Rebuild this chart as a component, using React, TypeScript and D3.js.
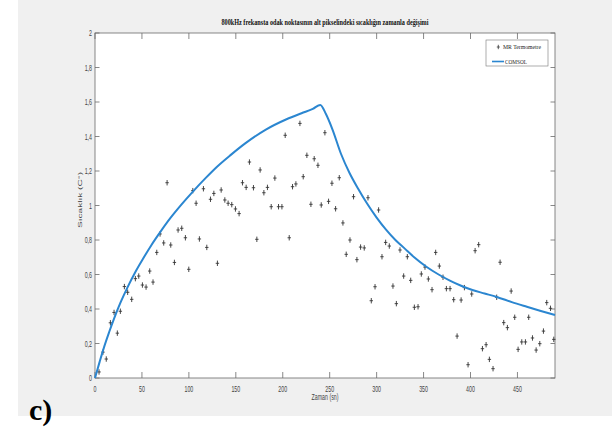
import React from "react";
import * as d3 from "d3";

const mrTimes = [4.3,8.5,12,16.4,20.3,23.8,27,31.3,34.8,39.1,43,46.6,50.5,54.4,58.3,61.8,65.8,69.3,73.2,76.8,80.7,84.6,88.5,92.4,96.3,99.9,104.2,107.7,111.2,115.5,119.1,123,126.6,130.4,134.4,138.3,141.8,145.7,149.6,153.5,157.1,161,164.5,168.8,172.4,175.9,179.9,183.7,187.7,191.6,195.5,199.1,202.6,206.9,210.4,214,218.3,221.8,225.7,230,233.5,237.5,241,244.9,248.8,252.4,256.3,260.2,264.1,267.6,271.6,275.4,279,282.9,286.8,290.8,294.3,298.3,302.1,305.7,309.6,313.5,317.4,321,324.9,328.8,332.7,336.3,340.2,344.1,347.6,351.5,355.1,359,362.9,366.8,370.7,374.3,378.2,382.1,385.7,390,393.5,397.4,401.3,404.9,408.7,412.7,416.6,420.1,424,427.9,431.5,435.4,439.3,443.3,447.1,450.7,454.6,458.5,462,466,469.9,473.8,477.7,481.2,485.2,488.7];
const mrValues = [0.035,0.15,0.11,0.32,0.38,0.26,0.387,0.53,0.497,0.456,0.576,0.591,0.539,0.527,0.62,0.556,0.728,0.835,0.783,1.132,0.771,0.67,0.858,0.868,0.813,0.63,1.086,1.013,0.806,1.097,0.757,1.036,1.07,0.665,1.09,1.032,1.013,1.005,0.98,0.953,1.132,1.105,1.252,1.103,0.804,1.206,1.074,1.105,0.993,1.159,0.993,0.993,1.407,0.813,1.109,1.125,1.476,1.167,1.291,1.007,1.271,1.233,1.003,1.422,1.024,1.129,0.981,1.161,0.899,0.717,0.8,1.051,0.686,0.759,0.754,1.045,0.448,0.529,0.974,0.703,0.786,0.765,0.533,0.431,0.742,0.591,0.703,0.566,0.41,0.413,0.603,0.643,0.574,0.512,0.728,0.649,0.584,0.518,0.518,0.454,0.243,0.452,0.524,0.077,0.487,0.738,0.773,0.17,0.193,0.108,0.054,0.468,0.671,0.321,0.292,0.504,0.352,0.166,0.209,0.209,0.352,0.232,0.162,0.199,0.272,0.437,0.404,0.224];

const comsolTimes = [0,5,10,15,20,27,35,43,51,60,70,80,92,105,118,130,145,160,182,204,220,232,240,246,253,262,271,280,290,300,310,320,330,340,353,366,378,390,402,415,428,444,460,474,490];
const comsolValues = [0,0.095,0.185,0.265,0.34,0.435,0.53,0.615,0.69,0.77,0.85,0.925,1.005,1.085,1.16,1.225,1.295,1.36,1.44,1.5,1.535,1.56,1.583,1.53,1.44,1.3,1.19,1.1,1.01,0.93,0.86,0.8,0.75,0.7,0.645,0.6,0.565,0.535,0.51,0.49,0.47,0.44,0.413,0.39,0.365];

const xTicks = [0,50,100,150,200,250,300,350,400,450];
const yTicks = [0,0.2,0.4,0.6,0.8,1,1.2,1.4,1.6,1.8,2];

const titleText = "800kHz frekansta odak noktasının alt pikselindeki sıcaklığın zamanla değişimi";
const xLabel = "Zaman (sn)";
const yLabel = "Sıcaklık (C°)";
const legendMR = "MR Termometre";
const legendComsol = "COMSOL";
const panelLabel = "c)";

export default function App() {
  const L = 95, R = 555, T = 33, B = 378;
  const x = d3.scaleLinear().domain([0, 490]).range([L, R]);
  const y = d3.scaleLinear().domain([0, 2]).range([B, T]);
  const line = d3.line<number>()
    .x((_, i) => x(comsolTimes[i]))
    .y((d) => y(d))
    .curve(d3.curveMonotoneX);
  const axisCol = "#6a6a6a";
  const txtCol = "#444";
  const fmt = (v: number) => (Math.round(v * 10) / 10).toString().replace(".", ",");
  return (
    <svg width={612} height={443} style={{ position: "absolute", left: 0, top: 0, background: "#fff" }}>
      <rect x={18} y={0} width={594} height={416} fill="#f0f0f0" />
      <rect x={L} y={T} width={R - L} height={B - T} fill="#fff" stroke={axisCol} strokeWidth={0.8} />
      <text x={325} y={25} fontFamily="Liberation Serif" fontWeight="bold" fontSize={7.5} fill="#111"
        textAnchor="middle" textLength={207} lengthAdjust="spacingAndGlyphs">{titleText}</text>
      {xTicks.map((t) => (
        <g key={"xt" + t}>
          <line x1={x(t)} x2={x(t)} y1={B} y2={B - 6} stroke={axisCol} strokeWidth={0.8} />
          <line x1={x(t)} x2={x(t)} y1={T} y2={T + 6} stroke={axisCol} strokeWidth={0.8} />
          <text transform={`translate(${x(t)},${B + 14}) scale(0.62,1)`} fontFamily="Liberation Sans"
            fontSize={8.5} fill={txtCol} textAnchor="middle">{t}</text>
        </g>
      ))}
      {yTicks.map((v) => (
        <g key={"yt" + v}>
          <line x1={L} x2={L + 4.5} y1={y(v)} y2={y(v)} stroke={axisCol} strokeWidth={0.8} />
          <line x1={R} x2={R - 4.5} y1={y(v)} y2={y(v)} stroke={axisCol} strokeWidth={0.8} />
          <text transform={`translate(${L - 3},${y(v) + 3}) scale(0.62,1)`} fontFamily="Liberation Sans"
            fontSize={8.5} fill={txtCol} textAnchor="end">{fmt(v)}</text>
        </g>
      ))}
      <text transform={`translate(325,${B + 22}) scale(0.62,1)`} fontFamily="Liberation Sans" fontSize={8.5}
        fill={txtCol} textAnchor="middle">{xLabel}</text>
      <text transform={`translate(82,200) rotate(-90) scale(1,0.62)`} fontFamily="Liberation Sans"
        fontSize={9} fill={txtCol} textAnchor="middle" textLength={56} lengthAdjust="spacingAndGlyphs">{yLabel}</text>
      <g>
        {mrTimes.map((t, i) => {
          const cx = x(t), cy = y(mrValues[i]);
          return (
            <g key={"p" + i} stroke="#333" strokeWidth={0.9}>
              <line x1={cx - 1.7} x2={cx + 1.7} y1={cy} y2={cy} />
              <line x1={cx} x2={cx} y1={cy - 2.7} y2={cy + 2.7} />
            </g>
          );
        })}
      </g>
      <path d={line(comsolValues) || ""} fill="none" stroke="#2b86d0" strokeWidth={2} />
      <g>
        <rect x={486} y={40} width={62} height={26} fill="#fff" stroke="#777" strokeWidth={0.6} />
        <g stroke="#333" strokeWidth={0.8}>
          <line x1={496.8} x2={499.8} y1={47} y2={47} />
          <line x1={498.3} x2={498.3} y1={44.8} y2={49.2} />
        </g>
        <text x={503} y={49} fontFamily="Liberation Serif" fontSize={5.5} fill="#222"
          textLength={38} lengthAdjust="spacingAndGlyphs">{legendMR}</text>
        <line x1={492} x2={504} y1={61.5} y2={61.5} stroke="#2b86d0" strokeWidth={1.6} />
        <text x={505} y={63.5} fontFamily="Liberation Serif" fontSize={5.5} fill="#222"
          textLength={22} lengthAdjust="spacingAndGlyphs">{legendComsol}</text>
      </g>
      <text x={29} y={420} fontFamily="Liberation Serif" fontWeight="bold" fontSize={30} fill="#000">{panelLabel}</text>
    </svg>
  );
}
